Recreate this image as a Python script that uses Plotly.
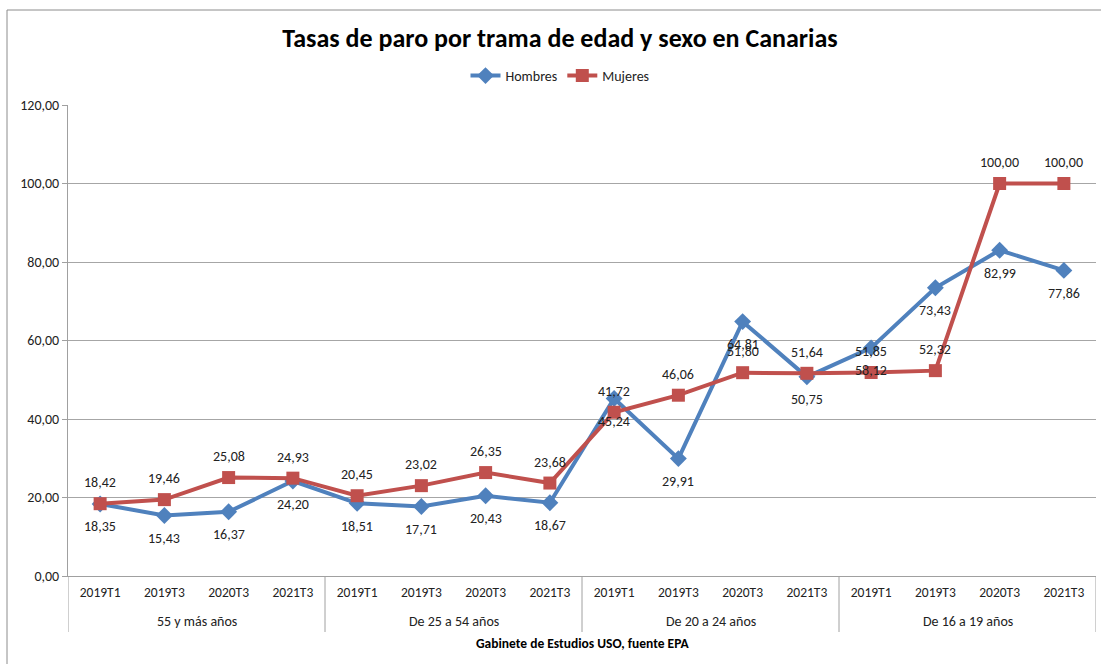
import plotly.graph_objects as go

groups = ["55 y más años", "De 25 a 54 años", "De 20 a 24 años", "De 16 a 19 años"]
periods = ["2019T1", "2019T3", "2020T3", "2021T3"]
hombres = [18.35, 15.43, 16.37, 24.20, 18.51, 17.71, 20.43, 18.67,
           45.24, 29.91, 64.81, 50.75, 58.12, 73.43, 82.99, 77.86]
mujeres = [18.42, 19.46, 25.08, 24.93, 20.45, 23.02, 26.35, 23.68,
           41.72, 46.06, 51.80, 51.64, 51.85, 52.32, 100.00, 100.00]

n_per = len(periods)
xs = list(range(len(groups) * n_per))
tick_labels = [p for _ in groups for p in periods]

def fmt(v):
    return f"{v:.2f}".replace(".", ",")

FONT = "Carlito, Calibri, Liberation Sans, Arial, sans-serif"

W, H = 1101, 664
L, R, T, B = 68, 5, 105, 88
pw, ph = W - L - R, H - T - B

fig = go.Figure()
fig.add_trace(go.Scatter(
    x=xs, y=hombres, name="Hombres", mode="lines+markers",
    line=dict(color="#4F81BD", width=4),
    marker=dict(symbol="diamond", size=13, color="#4F81BD"),
    cliponaxis=False,
))
fig.add_trace(go.Scatter(
    x=xs, y=mujeres, name="Mujeres", mode="lines+markers",
    line=dict(color="#C0504D", width=4),
    marker=dict(symbol="square", size=13, color="#C0504D"),
    cliponaxis=False,
))

# data labels
for xi, v in zip(xs, hombres):
    fig.add_annotation(x=xi, y=v, xref="x", yref="y", text=fmt(v), showarrow=False,
                       yshift=-23, font=dict(size=14, family=FONT, color="#222222"))
for xi, v in zip(xs, mujeres):
    fig.add_annotation(x=xi, y=v, xref="x", yref="y", text=fmt(v), showarrow=False,
                       yshift=21, font=dict(size=14, family=FONT, color="#222222"))

# group labels and dividers
for gi, g in enumerate(groups):
    center = gi * n_per + (n_per - 1) / 2
    fig.add_annotation(x=center, y=-45 / ph, xref="x", yref="paper", text=g,
                       showarrow=False, yanchor="middle",
                       font=dict(size=14, family=FONT, color="#222222"))
for b in range(len(groups) + 1):
    fig.add_shape(type="line", xref="x", yref="paper",
                  x0=b * n_per - 0.5, x1=b * n_per - 0.5, y0=0, y1=-56 / ph,
                  line=dict(color="#A0A0A0", width=1))

# footer (x-axis title)
fig.add_annotation(x=0.5, y=-67 / ph, xref="paper", yref="paper",
                   text="<b>Gabinete de Estudios USO, fuente EPA</b>",
                   showarrow=False, yanchor="middle",
                   font=dict(size=13.5, family=FONT, color="#000000"))

fig.update_layout(
    width=W, height=H,
    margin=dict(l=L, r=R, t=T, b=B, autoexpand=False),
    paper_bgcolor="white", plot_bgcolor="white",
    separators=",.",
    font=dict(family=FONT, size=14, color="#222222"),
    title=dict(text="<b>Tasas de paro por trama de edad y sexo en Canarias</b>",
               x=560 / W, xanchor="center", y=1 - 38 / H, yanchor="middle",
               font=dict(family=FONT, size=26, color="#000000")),
    legend=dict(orientation="h", x=(560 - L) / pw, xanchor="center",
                y=1 + (T - 76) / ph, yanchor="middle",
                font=dict(size=14, family=FONT), bgcolor="rgba(0,0,0,0)",
                itemwidth=30, tracegroupgap=0),
    showlegend=True,
    xaxis=dict(range=[-0.5, len(xs) - 0.5], tickmode="array", tickvals=xs,
               ticktext=tick_labels, showgrid=False, showline=True,
               linecolor="#A0A0A0", linewidth=1, ticks="", automargin=False,
               zeroline=False, ticklabelstandoff=4,
               tickfont=dict(size=13.5, family=FONT, color="#222222")),
    yaxis=dict(range=[0, 120], dtick=20, tickformat=".2f", automargin=False,
               showgrid=True, gridcolor="#A6A6A6", gridwidth=1,
               showline=True, linecolor="#A0A0A0", linewidth=1,
               ticks="outside", ticklen=5, tickcolor="#A0A0A0",
               tickfont=dict(size=14, family=FONT, color="#222222"),
               zeroline=False),
)

# outer chart border
fig.add_shape(type="rect", xref="paper", yref="paper",
              x0=(7 - L) / pw, x1=(W + 20 - L) / pw,
              y0=-(H + 20 - T - ph) / ph, y1=1 + (T - 10) / ph,
              line=dict(color="#8C8C8C", width=1), fillcolor="rgba(0,0,0,0)",
              layer="below")

fig.write_html("out.html", config={"displayModeBar": False},
               post_script="document.body.style.margin='0';document.body.style.padding='0';")
